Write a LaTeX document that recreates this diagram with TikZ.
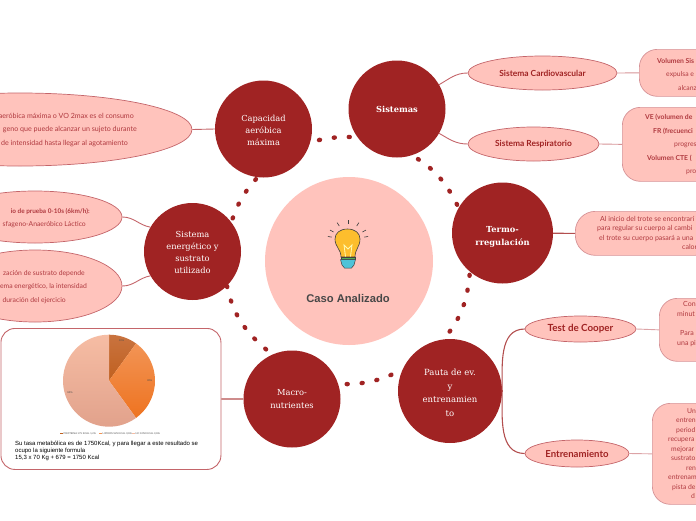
\documentclass[tikz,border=0pt]{standalone}
\usepackage{fontspec}
\setmainfont{Lato}
\newfontfamily\circfont{DejaVu Serif}
\newfontfamily\casofont{Liberation Sans}
\usetikzlibrary{shapes.geometric}
\definecolor{maroon}{HTML}{A02323}
\definecolor{salmon}{HTML}{FFC3BC}
\definecolor{rim}{HTML}{C4656A}
\definecolor{ink}{HTML}{B0393F}
\definecolor{pieA}{HTML}{C9733F}
\definecolor{pieAb}{HTML}{C0601F}
\definecolor{pieB}{HTML}{F29455}
\definecolor{pieBb}{HTML}{EE7320}
\definecolor{pieC}{HTML}{F6BDA4}
\definecolor{pieCb}{HTML}{E0A08A}
\definecolor{bulbY}{HTML}{FDBE2D}
\definecolor{bulbB}{HTML}{4FC3D8}
\begin{document}
\begin{tikzpicture}[x=1pt, y=-1pt,
        bignode/.style={circle, fill=maroon, text=white, inner sep=0pt, minimum size=97pt, align=center,
          font=\fontsize{8.3}{12.2}\selectfont\circfont},
        ovalnode/.style={ellipse, draw=rim, fill=salmon, inner sep=0pt, line width=0.7pt, text=maroon, align=center,
          font=\fontsize{8.2}{10}\selectfont\bfseries},
        boxnode/.style={rectangle, rounded corners=18pt, draw=rim!70, fill=salmon, line width=0.7pt, inner sep=0pt, anchor=north west},
        bodytext/.style={text=ink, font=\fontsize{7}{9.6}\selectfont, inner sep=0pt},
        bodywide/.style={text=ink, font=\fontsize{6.8}{13.5}\selectfont, inner sep=0pt},
        dotlink/.style={draw=maroon, line width=4.4pt, line cap=round, dash pattern=on 1pt off 14pt},
        branch/.style={draw=rim, line width=0.9pt},
        branchfat/.style={draw=maroon!80, line width=1.1pt},
        pietext/.style={font=\fontsize{2.6}{3}\selectfont\casofont, text=black!70, inner sep=0pt}]
        \useasboundingbox (0,0) rectangle (696,520);
        % ---- centre ----
        \node[circle, fill=salmon, minimum size=168pt, inner sep=0pt] (caso) at (349,261) {};
        \node[font=\fontsize{11.2}{12}\selectfont\bfseries\casofont, text=black!72] (casotxt) at (348,298.5) {Caso Analizado};
        % ---- bulb ----
        \fill[bulbY, draw=black!75, line width=0.6pt] (341,257) .. controls (341,249) and (335,247) .. (335,239) .. controls (335,233) and (340,229) .. (347.5,229) .. controls (355,229) and (360,233) .. (360,239) .. controls (360,247) and (355,249) .. (355,257) -- cycle;
        \draw[white!70!yellow, line width=0.8pt] (345.5,256.5) -- (344,245) -- (348,249) -- (352,245) -- (350.5,256.5);
        \fill[green!35!gray, draw=black!75, line width=0.5pt] (341,257) rectangle (355,259.5);
        \fill[bulbB, draw=black!75, line width=0.5pt] (340.5,259.5) -- (355.5,259.5) -- (354,265) -- (351.5,268) -- (344.5,268) -- (342,265) -- cycle;
        \foreach \a in {-10,-29,-58,-90,-122,-151,-170}
          \draw[shift={(348,240)}, black!75, line width=0.6pt] (\a:16.5) -- (\a:20.5);
        % ---- main circles ----
        \node[bignode] (capa) at (263.5,129) {\rule{0pt}{9pt}Capacidad\\aeróbica\\ máxima};
        \node[bignode, font=\fontsize{8.3}{12.5}\selectfont\bfseries\circfont] (sist) at (397,109) {Sistemas};
        \node[bignode, minimum size=101pt, font=\fontsize{8.3}{13}\selectfont\bfseries\circfont] (termo) at (502.5,233) {\rule{0pt}{14pt}Termo-\\rregulación};
        \node[bignode, minimum size=104pt, font=\fontsize{8.5}{13.4}\selectfont\circfont] (pauta) at (450,391) {\rule{0pt}{10pt}Pauta de ev.\\y\\entrenamien\\to};
        \node[bignode] (macro) at (292,399) {Macro-\\nutrientes};
        \node[bignode] (ener) at (192.5,251.5) {\rule{0pt}{8pt}Sistema\\energético y\\sustrato\\utilizado};
        % ---- dotted ring ----
        \draw[dotlink, dash phase=6pt] (capa.-16) to[out=17, in=180] (sist.215);
        \draw[dotlink, dash phase=8pt] (sist.-72) to[out=-31, in=116] (termo.150);
        \draw[dotlink, dash phase=12pt] (termo.-130) to[out=-95, in=50] (pauta.97);
        \draw[dotlink, dash phase=3pt] (pauta.156) to[out=206, in=-2] (macro.18);
        \draw[dotlink, dash phase=7pt] (macro.114) to[out=141, in=-78] (ener.-45);
        \draw[dotlink, dash phase=11pt] (ener.37) to[out=72, in=228] (capa.-97);
        % ---- sistemas ----
        \node[ovalnode, font=\fontsize{8.4}{10}\selectfont\bfseries, minimum width=149pt, minimum height=34pt] (cardio) at (542.5,73) {Sistema Cardiovascular};
        \node[ovalnode, font=\fontsize{8.4}{10}\selectfont\bfseries, minimum width=131pt, minimum height=34pt] (respi) at (533.5,144) {Sistema Respiratorio};
        \node[boxnode, minimum width=90pt, minimum height=47pt] (vol) at (639,49) {};
        \node[boxnode, minimum width=110pt, minimum height=74pt] (ve) at (622,107) {};
        \node[bodywide, anchor=west, align=left] (voltxt) at (657,74) {\textbf{Volumen Sis}\\\hspace*{9pt}expulsa e\\\hspace*{21pt}alcanz};
        \node[bodywide, anchor=west, align=left] (vetxt) at (645,144.5) {\textbf{VE (volumen de}\\\hspace*{8pt}\textbf{FR (frecuenci}\\\hspace*{29pt}progres\\\hspace*{2pt}\textbf{Volumen CTE (}\\\hspace*{41pt}pro};
        \draw[branch] (sist.30) to[out=30, in=180] (cardio.west);
        \draw[branch] (sist.-30) to[out=-30, in=180] (respi.west);
        \draw[branch, draw=rim!70] (cardio.east) -- (vol.west);
        \draw[branch, draw=rim!70] (respi.east) -- (ve.west);
        % ---- termo ----
        \node[boxnode, rounded corners=20pt, minimum width=140pt, minimum height=44pt] (trote) at (575,211) {};
        \node[bodytext, anchor=west, align=left] (trotetxt) at (597,233) {\hspace*{3pt}Al inicio del trote se encontrarí\\para regular su cuerpo al cambi\\\hspace*{2pt}el trote su cuerpo pasará a una\\\hspace*{85pt}calor};
        \draw[branchfat] (termo) -- (trote.west);
        % ---- pauta ----
        \node[ovalnode, font=\fontsize{9.8}{11}\selectfont\bfseries, minimum width=111pt, minimum height=26pt] (cooper) at (580.5,329) {Test de Cooper};
        \node[ovalnode, font=\fontsize{9.6}{11}\selectfont\bfseries, minimum width=104pt, minimum height=27pt] (entre) at (577,453.5) {Entrenamiento};
        \node[boxnode, minimum width=60pt, minimum height=63pt] (cobox) at (659,298) {};
        \node[boxnode, minimum width=70pt, minimum height=101pt] (enbox) at (652,403) {};
        \node[bodytext, anchor=west, align=left] (cotxt) at (677,324) {\hspace*{6pt}Con\\minut\\[9.6pt]\hspace*{3pt}Para\\una pi};
        \node[bodytext, font=\fontsize{6.8}{9.5}\selectfont, anchor=west, align=left] (entxt) at (668,453.5) {\hspace*{19pt}Un\\\hspace*{8pt}entren\\\hspace*{8pt}period\\recupera\\\hspace*{3pt}mejorar\\\hspace*{3pt}sustrato\\\hspace*{18pt}ren\\entrenam\\\hspace*{4pt}pista de\\\hspace*{23pt}d};
        \draw[branchfat] (pauta.east) to[out=90, in=180] (cooper.west);
        \draw[branchfat] (pauta.east) to[out=-90, in=180] (entre.west);
        \draw[branch, draw=rim!60] (cooper.east) -- (cobox.west);
        \draw[branch, draw=rim!60] (entre.east) -- (enbox.west);
        % ---- capacidad ----
        \node[ovalnode, minimum width=344pt, minimum height=73pt] (vomax) at (20,129.5) {};
        \node[bodywide, font=\fontsize{7.1}{13.4}\selectfont, anchor=east, align=right] (vomaxtxt) at (137,130) {aeróbica máxima o VO 2max es el consumo\hspace*{3pt}\\geno  que puede alcanzar un sujeto durante\\de intensidad hasta llegar al agotamiento\hspace*{9pt}};
        \draw[branch] (capa.west) -- (vomax.east);
        % ---- sustrato ----
        \node[ovalnode, minimum width=174pt, minimum height=52pt] (prueba) at (35,217) {};
        \node[ovalnode, minimum width=174pt, minimum height=72pt] (depende) at (35,286) {};
        \node[bodywide, anchor=east, align=right] (pruebatxt) at (90,218) {\fontsize{6.4}{12.7}\selectfont\textbf{io de prueba 0-10s (6km/h):}\\sfageno-Anaeróbico Láctico\hspace*{4pt}};
        \node[bodywide, anchor=east, align=right] (dependetxt) at (87,287) {zación de sustrato depende\hspace*{2pt}\\ema energético, la intensidad\\duración del ejercicio\hspace*{21pt}};
        \draw[branch] (ener.150) to[out=170, in=0] (prueba.east);
        \draw[branch] (ener.210) to[out=190, in=0] (depende.east);
        % ---- macronutrientes ----
        \node[boxnode, rounded corners=14pt, fill=white, minimum width=220pt, minimum height=141pt, draw=rim, line width=0.9pt] (piebox) at (0.5,328) {};
        \draw[branchfat] (macro.west) -- (piebox.east);
        \begin{scope}[shift={(109,380.7)}]
          \shade[top color=pieA, bottom color=pieAb] (0,0) -- (-90:46) arc (-90:-54:46) -- cycle;
          \shade[top color=pieB, bottom color=pieBb] (0,0) -- (-54:46) arc (-54:54:46) -- cycle;
          \shade[top color=pieC, bottom color=pieCb] (0,0) -- (54:46) arc (54:270:46) -- cycle;
        \end{scope}
        \node[pietext] (pctA) at (121.6,340.7) {10\%};
        \node[pietext] (pctB) at (149.7,381) {30\%};
        \node[pietext] (pctC) at (70,393) {60\%};
        \fill[pieAb] (60,433) rectangle (63,434.2);
        \node[pietext, anchor=west] (legA) at (63.5,433.5) {PROTEINA 175 KCAL 1,2G};
        \fill[pieB] (99,433) rectangle (102,434.2);
        \node[pietext, anchor=west] (legB) at (102.5,433.5) {LIPIDOS 525 KCAL 0,8G};
        \fill[pieC] (132,433) rectangle (135,434.2);
        \node[pietext, anchor=west] (legC) at (135.5,433.5) {HC 1050 KCAL 3,8G};
        \node[font=\fontsize{6}{7}\selectfont\casofont, inner sep=0pt, anchor=west, align=left] (formula) at (15,451) {Su tasa metabólica es de 1750Kcal, y para llegar a este resultado se\\ocupo la siguiente formula\\ 15,3 x 70 Kg + 679 = 1750 Kcal};
    \end{tikzpicture}
\end{document}
